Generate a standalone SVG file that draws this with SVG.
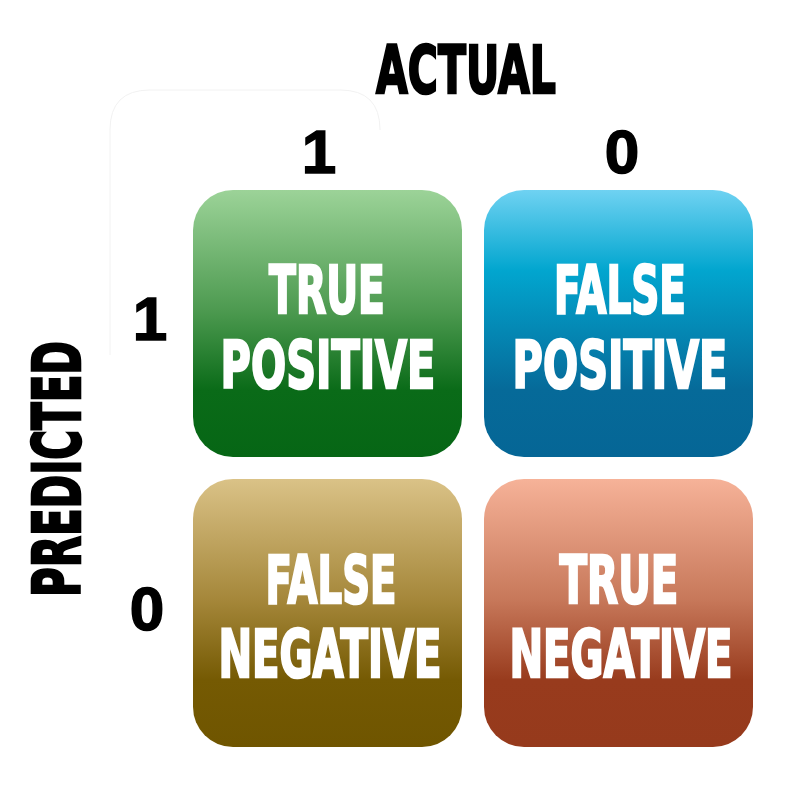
<svg xmlns="http://www.w3.org/2000/svg" width="800" height="800" viewBox="0 0 800 800">
  <defs>
    <linearGradient id="gTP" x1="0" y1="0" x2="0" y2="1">
      <stop offset="0" stop-color="#9cd398"/>
      <stop offset="0.45" stop-color="#4d9a50"/>
      <stop offset="0.75" stop-color="#0a6b18"/>
      <stop offset="1" stop-color="#066615"/>
    </linearGradient>
    <linearGradient id="gFP" x1="0" y1="0" x2="0" y2="1">
      <stop offset="0" stop-color="#6fd2f2"/>
      <stop offset="0.3" stop-color="#02a6cf"/>
      <stop offset="0.75" stop-color="#066a99"/>
      <stop offset="1" stop-color="#056696"/>
    </linearGradient>
    <linearGradient id="gFN" x1="0" y1="0" x2="0" y2="1">
      <stop offset="0" stop-color="#dac287"/>
      <stop offset="0.45" stop-color="#a5873a"/>
      <stop offset="0.75" stop-color="#755a03"/>
      <stop offset="1" stop-color="#6f5500"/>
    </linearGradient>
    <linearGradient id="gTN" x1="0" y1="0" x2="0" y2="1">
      <stop offset="0" stop-color="#f6b298"/>
      <stop offset="0.45" stop-color="#c7785a"/>
      <stop offset="0.75" stop-color="#983b1d"/>
      <stop offset="1" stop-color="#963a1c"/>
    </linearGradient>
  </defs>
  <style>
    .cell { stroke: none; }
    .lbl { font-family: "DejaVu Sans", "Liberation Sans", sans-serif; font-weight: bold; fill: #ffffff; stroke: #ffffff; stroke-width: 2.6px; text-anchor: middle; font-size: 66px; }
    .axis { font-family: "DejaVu Sans", "Liberation Sans", sans-serif; font-weight: bold; fill: #000000; stroke: #000000; stroke-width: 2.6px; text-anchor: middle; font-size: 66px; }
    .digit { font-family: "Liberation Sans", "DejaVu Sans", sans-serif; font-weight: bold; fill: #000000; stroke: #000000; stroke-width: 1.5px; text-anchor: middle; font-size: 62px; }
  </style>

  <rect width="800" height="800" fill="#ffffff"/>

  <!-- faint header panel behind the axis values -->
  <path d="M110,355 L110,130 Q110,90 150,90 L340,90 Q380,90 380,130" fill="none" stroke="#f2f2f2" stroke-width="1"/>

  <!-- axis titles (condensed horizontally) -->
  <g id="actual-title">
    <text class="axis" transform="translate(466,93) scale(0.62,1)" textLength="290" lengthAdjust="spacingAndGlyphs">ACTUAL</text>
  </g>
  <g id="predicted-title">
    <text class="axis" transform="translate(80,469) rotate(-90) scale(0.614,1)" textLength="417" lengthAdjust="spacingAndGlyphs">PREDICTED</text>
  </g>

  <!-- axis values -->
  <g id="actual-values">
    <text class="digit" x="319" y="173">1</text>
    <text class="digit" x="622" y="173">0</text>
  </g>
  <g id="predicted-values">
    <text class="digit" x="150" y="340">1</text>
    <text class="digit" x="147" y="630">0</text>
  </g>

  <!-- matrix cells; labels condensed to 60% width -->
  <g id="true-positive">
    <rect class="cell" x="193" y="190" width="269" height="267" rx="40" fill="url(#gTP)"/>
    <text class="lbl" transform="translate(327,313) scale(0.6,1)" textLength="193" lengthAdjust="spacingAndGlyphs">TRUE</text>
    <text class="lbl" transform="translate(328,388) scale(0.6,1)" textLength="358" lengthAdjust="spacingAndGlyphs">POSITIVE</text>
  </g>
  <g id="false-positive">
    <rect class="cell" x="484" y="190" width="269" height="267" rx="40" fill="url(#gFP)"/>
    <text class="lbl" transform="translate(620,313) scale(0.6,1)" textLength="220" lengthAdjust="spacingAndGlyphs">FALSE</text>
    <text class="lbl" transform="translate(620,388) scale(0.6,1)" textLength="358" lengthAdjust="spacingAndGlyphs">POSITIVE</text>
  </g>
  <g id="false-negative">
    <rect class="cell" x="193" y="479" width="269" height="268" rx="40" fill="url(#gFN)"/>
    <text class="lbl" transform="translate(331,603) scale(0.6,1)" textLength="218" lengthAdjust="spacingAndGlyphs">FALSE</text>
    <text class="lbl" transform="translate(330,677) scale(0.6,1)" textLength="372" lengthAdjust="spacingAndGlyphs">NEGATIVE</text>
  </g>
  <g id="true-negative">
    <rect class="cell" x="484" y="479" width="269" height="268" rx="40" fill="url(#gTN)"/>
    <text class="lbl" transform="translate(619,603) scale(0.6,1)" textLength="198" lengthAdjust="spacingAndGlyphs">TRUE</text>
    <text class="lbl" transform="translate(621,677) scale(0.6,1)" textLength="372" lengthAdjust="spacingAndGlyphs">NEGATIVE</text>
  </g>

  <!-- no connectors in this matrix -->
  <g id="connectors"/>
</svg>
